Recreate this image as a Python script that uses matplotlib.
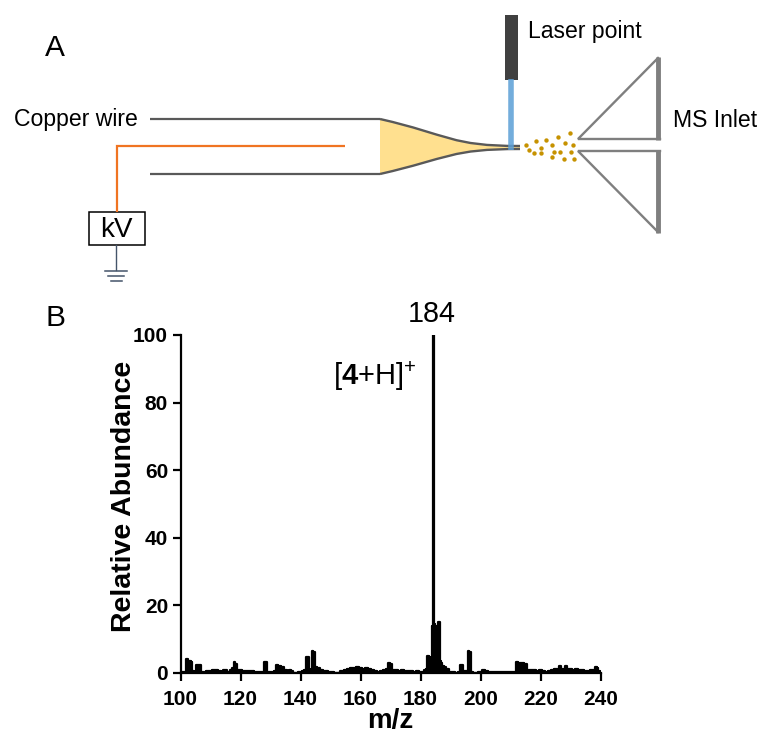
import matplotlib
matplotlib.use('Agg')
import matplotlib.pyplot as plt
from matplotlib.path import Path
from matplotlib.patches import PathPatch, Rectangle

plt.rcParams['font.family'] = ['Liberation Sans', 'DejaVu Sans']
plt.rcParams['mathtext.fontset'] = 'custom'
plt.rcParams['mathtext.rm'] = 'Liberation Sans'
plt.rcParams['mathtext.bf'] = 'Liberation Sans:bold'

# spectrum, rows of ten line up between the two lists
mz = [100, 101, 101.5, 102, 103, 103.7, 104, 105, 105.5, 106,
      106.5, 107, 108, 109, 110, 111, 111.5, 112, 113, 114,
      114.5, 115, 116, 117, 117.5, 118, 118.5, 119, 120, 121,
      122, 123, 124, 125, 126, 127, 127.5, 128, 128.5, 129,
      130, 131, 131.5, 132, 133, 134, 135, 136, 136.5, 137,
      138, 140, 141, 141.5, 142, 142.5, 143, 143.5, 144, 144.5,
      145, 146, 147, 148, 150, 152, 154, 155, 156, 157,
      158, 159, 160, 161, 162, 163, 164, 165, 166, 167,
      168, 169, 169.5, 170, 171, 172, 173, 174, 175, 176,
      177, 178, 179, 180, 181, 181.5, 182, 182.5, 183, 183.5,
      184, 184.2, 184.5, 185, 185.5, 186, 186.3, 186.7, 187, 187.5,
      188, 189, 190, 191, 192, 193, 193.5, 194, 194.5, 195,
      195.5, 196, 196.5, 197, 198, 200, 201, 202, 203, 205,
      208, 210, 211.5, 212, 213, 214, 215, 216, 217, 218,
      219, 220, 221, 222, 223, 224, 225, 226, 226.5, 227,
      228, 228.5, 229, 230, 231, 232, 233, 234, 235, 236,
      237, 238, 238.5, 239, 239.5, 240]
abundance = [0.1, 0.2, 0.3, 4.0, 3.6, 3.3, 0.6, 0.3, 2.4, 2.5,
             2.3, 0.4, 0.3, 0.7, 0.6, 0.9, 1.0, 1.0, 0.6, 0.3,
             0.9, 0.9, 0.3, 1.0, 1.5, 3.2, 2.8, 1.0, 0.8, 0.5,
             0.7, 0.5, 0.5, 0.4, 0.2, 0.3, 0.4, 3.4, 3.2, 0.4,
             0.3, 0.4, 0.6, 2.4, 2.0, 1.7, 0.8, 0.5, 0.9, 0.5,
             0.1, 0.2, 0.6, 1.0, 4.8, 4.6, 1.2, 1.0, 6.5, 6.3,
             1.8, 1.4, 1.0, 0.5, 0.2, 0.1, 0.5, 1.0, 1.3, 1.5,
             1.4, 1.8, 1.5, 1.3, 1.5, 1.3, 1.0, 0.6, 0.3, 0.5,
             0.9, 1.2, 3.0, 2.7, 1.0, 0.8, 0.7, 0.8, 0.5, 0.7,
             0.7, 0.2, 0.5, 0.2, 0.2, 1.0, 1.2, 5.0, 4.8, 4.0,
             14.0, 100, 14.5, 14.0, 13.5, 15.2, 15.0, 3.5, 3.0, 2.2,
             1.8, 1.2, 0.3, 0.2, 0.1, 0.2, 2.3, 2.3, 0.6, 0.5,
             0.5, 6.5, 6.3, 0.4, 0.1, 0.2, 0.8, 0.6, 0.4, 0.4,
             0.4, 0.4, 0.3, 3.2, 3.1, 3.0, 2.6, 1.0, 0.8, 0.9,
             0.7, 0.8, 0.6, 0.4, 0.7, 1.0, 1.3, 1.2, 2.2, 1.2,
             1.3, 2.0, 1.2, 1.2, 1.0, 1.1, 0.9, 0.9, 0.7, 0.6,
             0.8, 0.9, 1.8, 1.4, 0.6, 0.2]
xticks = [100, 120, 140, 160, 180, 200, 220, 240]
yticks = [0, 20, 40, 60, 80, 100]

# schematic, in reference pixels
tube_top = [(150, 119), (380, 119)]
tube_bottom = [(150, 174), (380, 174)]
tip_top = [(380, 119), (450, 135), (450, 146), (520, 146)]
tip_bottom = [(380, 174), (450, 158), (450, 149), (520, 149)]
wire_x = [345, 117, 117]
wire_y = [146, 146, 212]
spray_x = [526, 535.7, 546.3, 558.3, 570, 551.7, 564.7, 572.7, 541, 528.7, 533.7, 541, 553.7, 560, 571, 552, 564.3, 573.7]
spray_y = [145, 141.3, 140.3, 137, 133.3, 144.7, 142.7, 144.7, 148, 150.3, 152.7, 153, 151.7, 152, 152, 156.7, 158.7, 158.7]

fig = plt.figure(figsize=(7.64, 7.35), dpi=100)

# panel A drawn on a full figure axes
bg = fig.add_axes([0, 0, 1, 1])
bg.set_xlim(0, 764)
bg.set_ylim(735, 0)
bg.axis('off')

tube_color = '#595959'
codes = [Path.MOVETO, Path.CURVE4, Path.CURVE4, Path.CURVE4]
fill_pts = tip_top + tip_bottom[::-1] + [tip_top[0]]
fill_codes = codes + [Path.LINETO, Path.CURVE4, Path.CURVE4, Path.CURVE4, Path.CLOSEPOLY]
bg.add_patch(PathPatch(Path(fill_pts, fill_codes), fc='#ffe08f', ec='none'))
for pts in (tip_top, tip_bottom):
    bg.add_patch(PathPatch(Path(pts, codes), fc='none', ec=tube_color, lw=1.7))
for pts in (tube_top, tube_bottom):
    bg.plot([p[0] for p in pts], [p[1] for p in pts], color=tube_color, lw=1.6, solid_capstyle='butt')

bg.plot(wire_x, wire_y, color='#f07422', lw=1.6, solid_joinstyle='miter', solid_capstyle='butt')
bg.add_patch(Rectangle((88.5, 212), 56.5, 33, fc='white', ec='black', lw=1.1))
bg.text(116.5, 230, 'kV', fontsize=20, ha='center', va='center')
ground = '#44546a'
bg.plot([116, 116], [245, 270], color=ground, lw=1)
bg.plot([105, 127], [270.5, 270.5], color=ground, lw=1.1)
bg.plot([108, 124], [275.5, 275.5], color=ground, lw=1.1)
bg.plot([110.5, 122], [280.5, 280.5], color=ground, lw=1.1)

bg.add_patch(Rectangle((505, 15), 13, 65, fc='#404040', ec='none'))
bg.plot([511.3, 511.3], [79, 149.5], color='#5b9fd6', lw=4, alpha=0.85, solid_capstyle='butt', zorder=5)
bg.scatter(spray_x, spray_y, s=10, color='#c69200', linewidths=0)

inlet = '#7f7f7f'
bg.plot([658, 578, 660], [58, 139, 139], color=inlet, lw=1.7, solid_joinstyle='miter')
bg.plot([658, 578, 660], [232, 151, 151], color=inlet, lw=1.7, solid_joinstyle='miter')
bg.plot([658.2, 658.2], [57, 140], color=inlet, lw=3.5, solid_capstyle='butt')
bg.plot([658.2, 658.2], [150, 233], color=inlet, lw=3.5, solid_capstyle='butt')

bg.text(45, 48, 'A', fontsize=21.5, ha='left', va='center')
bg.text(45, 318, 'B', fontsize=21.5, ha='left', va='center')
bg.text(14, 119, 'Copper wire', fontsize=16.6, ha='left', va='center')
bg.text(528, 31, 'Laser point', fontsize=16.6, ha='left', va='center')
bg.text(673, 120, 'MS Inlet', fontsize=16.6, ha='left', va='center')
bg.text(432, 314, '184', fontsize=20.7, ha='center', va='center')
bg.text(333, 376, r'[$\mathbf{4}$+H]$^{+}$', fontsize=21, ha='left', va='center')

# panel B
ax = fig.add_axes([180.5 / 764, 1 - 673 / 735, 420 / 764, 338 / 735])
ax.patch.set_alpha(0)
ax.plot(mz, abundance, color='black', lw=1.6, drawstyle='steps-mid')
ax.fill_between(mz, 0, abundance, color='black', lw=0, step='mid')
ax.set_xlim(100, 240)
ax.set_ylim(0, 100)
ax.set_xticks(xticks)
ax.set_yticks(yticks)
ax.tick_params(axis='x', width=1.6, length=6, labelsize=15, pad=6)
ax.tick_params(axis='y', width=1.6, length=6, labelsize=15, pad=3)
for lab in ax.get_xticklabels() + ax.get_yticklabels():
    lab.set_fontweight('bold')
for side in ('top', 'right'):
    ax.spines[side].set_visible(False)
for side in ('left', 'bottom'):
    ax.spines[side].set_linewidth(1.6)
ax.set_xlabel('m/z', fontsize=20, fontweight='bold', va='top')
ax.set_ylabel('Relative Abundance', fontsize=20.5, fontweight='bold')
ax.xaxis.set_label_coords(0.5, -0.103)
ax.yaxis.set_label_coords(-0.104, 0.524)

plt.savefig('out.png', dpi=100)
